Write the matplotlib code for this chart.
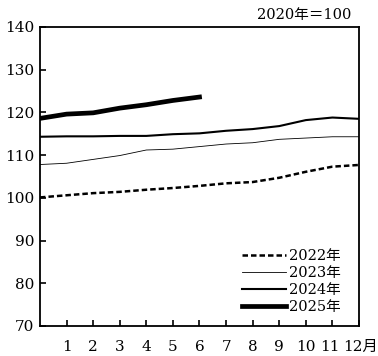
import matplotlib.pyplot as plt
import matplotlib.transforms as mtransforms

# 月次指数（2020年＝100）
positions = list(range(13))
idx_2022 = [100.1, 100.6, 101.1, 101.4, 101.9, 102.3, 102.8, 103.4, 103.7, 104.7, 106.1, 107.3, 107.7]
idx_2023 = [107.8, 108.1, 109.0, 109.9, 111.2, 111.4, 112.0, 112.6, 112.9, 113.7, 114.0, 114.3, 114.3]
idx_2024 = [114.3, 114.4, 114.4, 114.5, 114.5, 114.9, 115.1, 115.7, 116.1, 116.8, 118.2, 118.8, 118.5]
idx_2025 = [118.6, 119.6, 119.9, 121.0, 121.8, 122.8, 123.6]

month_labels = ["1", "2", "3", "4", "5", "6", "7", "8", "9", "10", "11", "12月"]
y_ticks = [70, 80, 90, 100, 110, 120, 130, 140]

FONT = ["DejaVu Serif", "Noto Sans CJK JP"]
plt.rcParams["font.family"] = FONT

fig = plt.figure(figsize=(3.78, 3.56), dpi=100)
ax = fig.add_axes([0.1058, 0.0843, 0.8439, 0.8399])

ax.plot(positions, idx_2022, color="black", lw=1.8, ls=(0, (2.2, 1.2)), label="2022年")
ax.plot(positions, idx_2023, color="black", lw=0.6, label="2023年")
ax.plot(positions, idx_2024, color="black", lw=1.5, label="2024年")
ax.plot(positions[:len(idx_2025)], idx_2025, color="black", lw=3.4, label="2025年")

ax.set_xlim(0, 12)
ax.set_ylim(70, 140)
ax.set_xticks(range(1, 13))
ax.set_xticklabels(month_labels)
ax.set_yticks(y_ticks)
ax.tick_params(axis="both", direction="in", length=4, width=1.2, labelsize=11)
ax.tick_params(axis="x", pad=10)
ax.tick_params(axis="y", pad=4)
for s in ax.spines.values():
    s.set_linewidth(1.3)

# 11 と 12月 が重ならないよう少しずらす
labels = ax.get_xticklabels()
labels[-1].set_transform(labels[-1].get_transform()
                         + mtransforms.ScaledTranslation(1.5 / 100, 0, fig.dpi_scale_trans))
labels[-2].set_transform(labels[-2].get_transform()
                         + mtransforms.ScaledTranslation(-3 / 100, 0, fig.dpi_scale_trans))

fig.text(0.93, 0.958, "2020年＝100", ha="right", va="center", fontsize=10.5)

ax.legend(loc="lower right", bbox_to_anchor=(0.97, 0.01), frameon=False,
          fontsize=10.5, handlelength=3.0, handletextpad=0.2, labelspacing=0.2,
          borderaxespad=0.2)

fig.savefig("out.png", dpi=100)
